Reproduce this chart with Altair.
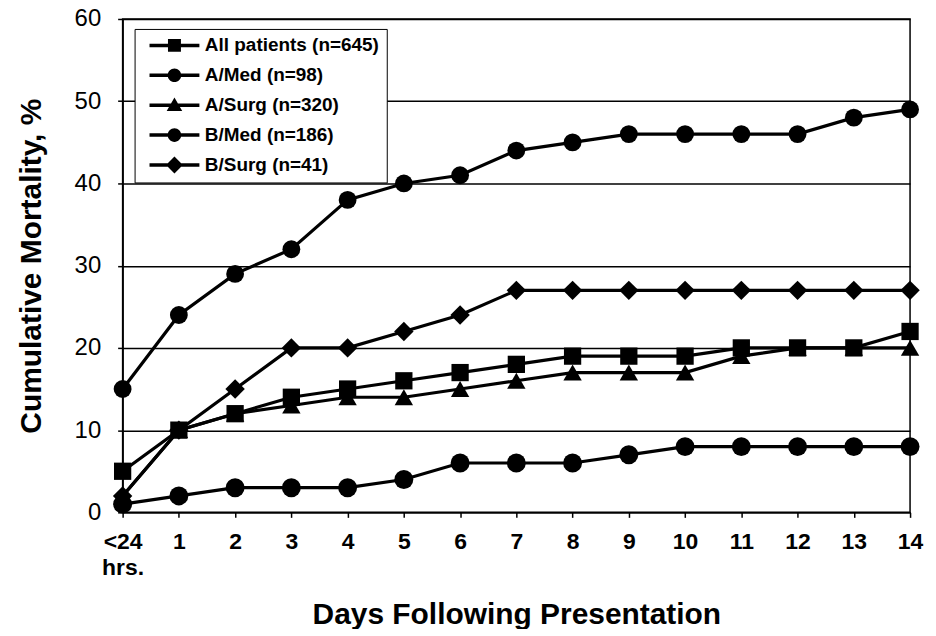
import altair as alt
import pandas as pd

# ---------------- data ----------------
days = ["<24", "1", "2", "3", "4", "5", "6", "7", "8", "9", "10", "11", "12", "13", "14"]
series = ["All patients (n=645)", "A/Med (n=98)", "A/Surg (n=320)", "B/Med (n=186)", "B/Surg (n=41)"]
all_patients = [5, 10, 12, 14, 15, 16, 17, 18, 19, 19, 19, 20, 20, 20, 22]
a_med = [15, 24, 29, 32, 38, 40, 41, 44, 45, 46, 46, 46, 46, 48, 49]
a_surg = [2, 10, 12, 13, 14, 14, 15, 16, 17, 17, 17, 19, 20, 20, 20]
b_med = [1, 2, 3, 3, 3, 4, 6, 6, 6, 7, 8, 8, 8, 8, 8]
b_surg = [2, 10, 15, 20, 20, 22, 24, 27, 27, 27, 27, 27, 27, 27, 27]
y_ticks = [0, 10, 20, 30, 40, 50, 60]

values = [all_patients, a_med, a_surg, b_med, b_surg]
rows = []
for name, vals in zip(series, values):
    for d, v in zip(days, vals):
        rows.append({"day": d, "mortality": v, "series": name})
df = pd.DataFrame(rows)

# ---------------- styles ----------------
FONT = "Liberation Sans"
shapes = ["square", "circle", "triangle-up", "circle", "diamond"]
sizes = [300, 380, 340, 340, 380]

line_p = "M-3.85,-0.27H3.85V0.27H-3.85Z"
leg_shapes = [
    line_p + "M-1,-1H1V1H-1Z",
    line_p + "M-1.05,0A1.05,1.05,0,1,1,1.05,0A1.05,1.05,0,1,1,-1.05,0Z",
    line_p + "M0,-1.2L1.2,0.9L-1.2,0.9Z",
    line_p + "M-1.05,0A1.05,1.05,0,1,1,1.05,0A1.05,1.05,0,1,1,-1.05,0Z",
    line_p + "M0,-1.3L1.3,0L0,1.3L-1.3,0Z",
]

x_enc = alt.X(
    "day:O",
    scale=alt.Scale(type="point", domain=days, padding=0),
    axis=alt.Axis(
        title="Days Following Presentation",
        labelAngle=0,
        labelFont=FONT,
        labelFontSize=23,
        labelFontWeight="bold",
        labelColor="black",
        labelExpr="datum.value == '<24' ? ['<24', 'hrs.'] : datum.value",
        labelLineHeight=26,
        labelPadding=13,
        tickSize=5,
        tickColor="black",
        tickWidth=1.5,
        domainColor="black",
        domainWidth=1.5,
        grid=False,
        titleFont=FONT,
        titleFontSize=30,
        titleFontWeight="bold",
        titleColor="black",
        titlePadding=20,
    ),
)
y_enc = alt.Y(
    "mortality:Q",
    scale=alt.Scale(domain=[0, 60], nice=False),
    axis=alt.Axis(
        title="Cumulative Mortality, %",
        values=y_ticks,
        labelFont=FONT,
        labelFontSize=24,
        labelColor="black",
        labelPadding=17,
        tickSize=5,
        tickColor="black",
        tickWidth=1.5,
        domainColor="black",
        domainWidth=1.5,
        grid=True,
        gridColor="black",
        gridWidth=1.5,
        titleFont=FONT,
        titleFontSize=30,
        titleFontWeight="bold",
        titleColor="black",
        titlePadding=28,
    ),
)

lines = alt.Chart(df).mark_line(color="black", strokeWidth=3.2).encode(
    x=x_enc, y=y_enc, detail="series:N"
)

points = alt.Chart(df).mark_point(filled=True, color="black", opacity=1).encode(
    x=x_enc,
    y=y_enc,
    shape=alt.Shape("series:N", scale=alt.Scale(domain=series, range=shapes), legend=None),
    size=alt.Size("series:N", scale=alt.Scale(domain=series, range=sizes), legend=None),
)

legend_layer = alt.Chart(df).mark_point(filled=True, color="black", opacity=0).encode(
    x=x_enc,
    y=y_enc,
    shape=alt.Shape(
        "series:N",
        scale=alt.Scale(domain=series, range=leg_shapes),
        legend=alt.Legend(
            title=None,
            orient="none",
            legendX=12,
            legendY=10,
            direction="vertical",
            fillColor="white",
            strokeColor="black",
            padding=7,
            symbolSize=169,
            symbolOffset=23.5,
            labelOffset=21,
            labelFont=FONT,
            labelFontSize=19,
            labelFontWeight="bold",
            labelColor="black",
            labelLimit=400,
            rowPadding=10,
            symbolFillColor="black",
            symbolStrokeColor="black",
            symbolStrokeWidth=0,
            symbolOpacity=1,
        ),
    ),
)

chart = (
    alt.layer(lines, points, legend_layer)
    .resolve_scale(shape="independent", size="independent")
    .properties(
        width=790,
        height=495,
        autosize=alt.AutoSizeParams(type="none"),
        padding={"left": 115, "top": 10, "right": 18, "bottom": 116},
        background="white",
    )
    .configure_view(stroke="black", strokeWidth=1.5)
)

chart.save("out.html", embed_options={"renderer": "svg", "actions": False})
